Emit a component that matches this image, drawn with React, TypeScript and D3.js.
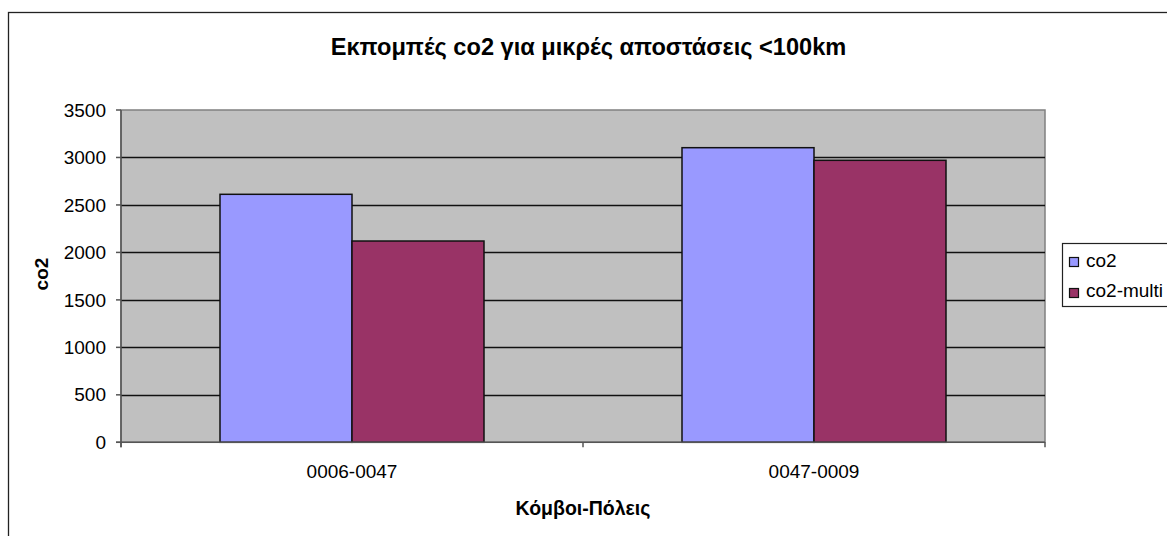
import React from "react";
import * as d3 from "d3";

const categories = ["0006-0047", "0047-0009"];
const seriesNames = ["co2", "co2-multi"];
const co2Values = [2612, 3103];
const co2MultiValues = [2120, 2970];
const yTicks = [0, 500, 1000, 1500, 2000, 2500, 3000, 3500];
const colors = ["#9999FF", "#993366"];

const W = 1167;
const H = 536;
const FONT = "'Liberation Sans', Arial, sans-serif";

export default function App() {
  const left = 121, right = 1045, top = 110, bottom = 442.3;
  const y = d3.scaleLinear().domain([0, 3500]).range([bottom, top]);
  const x0 = d3
    .scaleBand<string>()
    .domain(categories)
    .range([left, right])
    .paddingInner(3 / 7)
    .paddingOuter(1.5 / 7);
  const x1 = d3.scaleBand<string>().domain(seriesNames).range([0, x0.bandwidth()]);
  const values = [co2Values, co2MultiValues];
  const catEdges = [left, ...categories.map((_, i) => left + (i + 1) * x0.step())];

  return (
    <svg
      width={W}
      height={H}
      style={{ position: "absolute", left: 0, top: 0, background: "#fff" }}
      fontFamily={FONT}
    >
      <rect x={8.5} y={12.5} width={1200} height={600} fill="#fff" stroke="#222" strokeWidth={1.3} />
      <text x={588.5} y={55} textAnchor="middle" fontSize={23.6} fontWeight="bold" fill="#000">
        Εκπομπές co2 για μικρές αποστάσεις &lt;100km
      </text>
      {/* plot area */}
      <rect x={left} y={top} width={right - left} height={bottom - top} fill="#C0C0C0" stroke="#808080" strokeWidth={1.5} />
      {yTicks.filter((t) => t > 0 && t < 3500).map((t) => (
        <line key={t} x1={left} x2={right} y1={Math.round(y(t)) + 0.5} y2={Math.round(y(t)) + 0.5} stroke="#111" strokeWidth={1.3} />
      ))}
      {/* bars */}
      {categories.map((c, ci) =>
        seriesNames.map((s, si) => (
          <rect
            key={c + s}
            x={(x0(c) as number) + (x1(s) as number)}
            y={y(values[si][ci])}
            width={x1.bandwidth()}
            height={bottom - y(values[si][ci])}
            fill={colors[si]}
            stroke="#111"
            strokeWidth={1.5}
          />
        ))
      )}
      {/* axes */}
      <line x1={left} x2={left} y1={top} y2={bottom + 5} stroke="#555" strokeWidth={1.5} />
      <line x1={left - 5} x2={right} y1={bottom} y2={bottom} stroke="#555" strokeWidth={1.5} />
      {yTicks.map((t) => (
        <g key={t}>
          <line x1={left - 5} x2={left} y1={y(t)} y2={y(t)} stroke="#555" strokeWidth={1.5} />
          <text x={106} y={y(t)} dy="0.35em" textAnchor="end" fontSize={19} fill="#000">
            {t}
          </text>
        </g>
      ))}
      {catEdges.map((e, i) => (
        <line key={i} x1={e} x2={e} y1={bottom} y2={bottom + 5} stroke="#555" strokeWidth={1.5} />
      ))}
      {categories.map((c) => (
        <text key={c} x={(x0(c) as number) + x0.bandwidth() / 2} y={478} textAnchor="middle" fontSize={19} fill="#000">
          {c}
        </text>
      ))}
      <text x={583} y={515} textAnchor="middle" fontSize={19.5} fontWeight="bold" fill="#000">
        Κόμβοι-Πόλεις
      </text>
      <text
        transform={`translate(48, 274) rotate(-90)`}
        textAnchor="middle"
        fontSize={19}
        fontWeight="bold"
        fill="#000"
      >
        co2
      </text>
      {/* legend */}
      <rect x={1062.5} y={243.5} width={200} height={63} fill="#fff" stroke="#222" strokeWidth={1.2} />
      {seriesNames.map((s, i) => (
        <g key={s}>
          <rect x={1069.5} y={257.5 + i * 31} width={9} height={9} fill={colors[i]} stroke="#111" strokeWidth={1.2} />
          <text x={1086} y={267 + i * 30} fontSize={19} fill="#000">
            {s}
          </text>
        </g>
      ))}
    </svg>
  );
}
